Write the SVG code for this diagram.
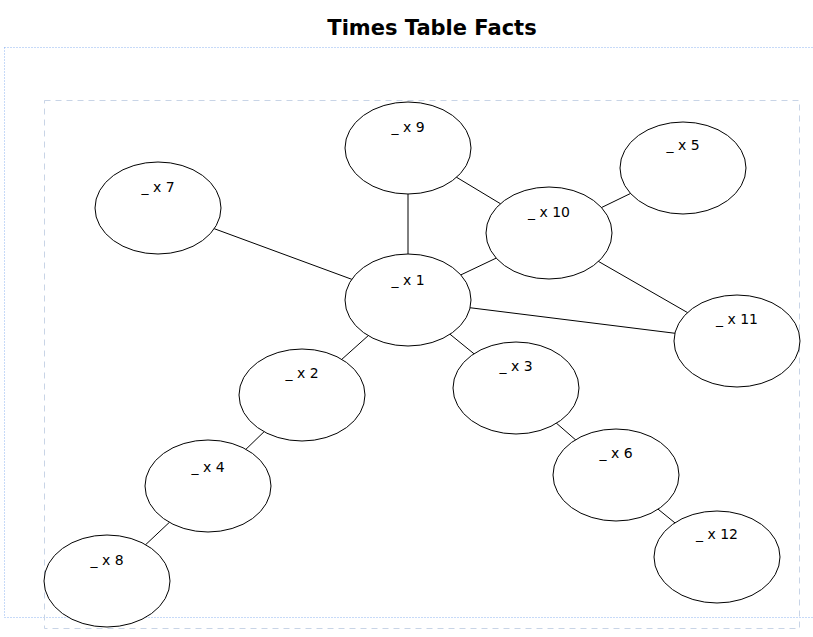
<svg xmlns="http://www.w3.org/2000/svg" width="813" height="637" viewBox="0 0 813 637">
<style>
.n{fill:#fff;stroke:#000;stroke-width:1}
.t{font-family:"Comic Sans MS","DejaVu Sans",sans-serif;font-size:14px;text-anchor:middle;fill:#000}
#edges line{stroke:#000;stroke-width:1}
</style>
<rect width="813" height="637" fill="#fff"/>
<rect x="4.5" y="47.5" width="812" height="570" fill="none" stroke="#8fb4f0" stroke-dasharray="1,2"/>
<rect x="44.5" y="100.5" width="755" height="528" fill="none" stroke="#c8d4e6" stroke-dasharray="6,5"/>
<text x="432" y="35" font-family="'Comic Sans MS','DejaVu Sans',sans-serif" font-size="21" font-weight="bold" text-anchor="middle">Times Table Facts</text>
<g id="edges">
<line x1="158" y1="208" x2="408" y2="300"/>
<line x1="408" y1="148" x2="408" y2="300"/>
<line x1="408" y1="148" x2="549" y2="233"/>
<line x1="549" y1="233" x2="683" y2="168"/>
<line x1="549" y1="233" x2="408" y2="300"/>
<line x1="549" y1="233" x2="737" y2="341"/>
<line x1="408" y1="300" x2="737" y2="341"/>
<line x1="408" y1="300" x2="302" y2="395"/>
<line x1="408" y1="300" x2="516" y2="388"/>
<line x1="302" y1="395" x2="208" y2="486"/>
<line x1="208" y1="486" x2="107" y2="581"/>
<line x1="516" y1="388" x2="616" y2="475"/>
<line x1="616" y1="475" x2="717" y2="557"/>
</g>
<g id="n9"><ellipse class="n" cx="408" cy="148" rx="63" ry="46"/><text class="t" x="408" y="132">_ x 9</text></g>
<g id="n7"><ellipse class="n" cx="158" cy="208" rx="63" ry="46"/><text class="t" x="158" y="192">_ x 7</text></g>
<g id="n5"><ellipse class="n" cx="683" cy="168" rx="63" ry="46"/><text class="t" x="683" y="150">_ x 5</text></g>
<g id="n10"><ellipse class="n" cx="549" cy="233" rx="63" ry="46"/><text class="t" x="549" y="217">_ x 10</text></g>
<g id="n1"><ellipse class="n" cx="408" cy="300" rx="63" ry="46"/><text class="t" x="408" y="285">_ x 1</text></g>
<g id="n11"><ellipse class="n" cx="737" cy="341" rx="63" ry="46"/><text class="t" x="737" y="324">_ x 11</text></g>
<g id="n2"><ellipse class="n" cx="302" cy="395" rx="63" ry="46"/><text class="t" x="302" y="378">_ x 2</text></g>
<g id="n3"><ellipse class="n" cx="516" cy="388" rx="63" ry="46"/><text class="t" x="516" y="371">_ x 3</text></g>
<g id="n6"><ellipse class="n" cx="616" cy="475" rx="63" ry="46"/><text class="t" x="616" y="458">_ x 6</text></g>
<g id="n4"><ellipse class="n" cx="208" cy="486" rx="63" ry="46"/><text class="t" x="208" y="472">_ x 4</text></g>
<g id="n12"><ellipse class="n" cx="717" cy="557" rx="63" ry="46"/><text class="t" x="717" y="539">_ x 12</text></g>
<g id="n8"><ellipse class="n" cx="107" cy="581" rx="63" ry="46"/><text class="t" x="107" y="565">_ x 8</text></g>
</svg>
